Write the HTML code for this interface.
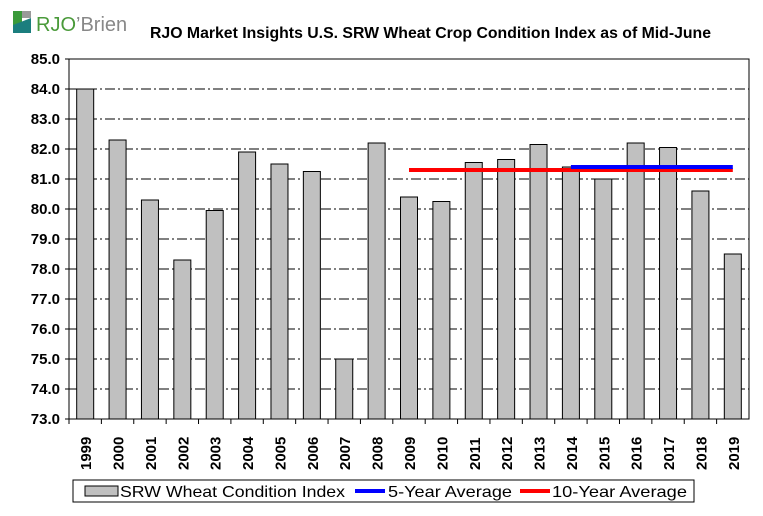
<!DOCTYPE html>
<html><head><meta charset="utf-8"><style>
body{margin:0;background:#fff;width:763px;height:516px;overflow:hidden;font-family:"Liberation Sans",Arial,sans-serif}
svg{display:block}
</style></head><body>
<svg width="763" height="516" id="c">
<g>
<rect x="13" y="11" width="9" height="14" fill="#3a9a3a"/>
<rect x="22" y="11" width="9" height="7" fill="#999"/>
<polygon points="13,25 31,18 31,33 13,33" fill="#1b7e7e"/>
<text x="36" y="31" font-size="20" fill="#4a9a3a">RJO<tspan fill="#888">’Brien</tspan></text>
</g>
<text x="150" y="38" font-size="15.5" font-weight="bold" textLength="561" lengthAdjust="spacingAndGlyphs">RJO Market Insights U.S. SRW Wheat Crop Condition Index as of Mid-June</text>
<g id="grid"></g><g id="bars"></g><g id="lines"></g><g id="axes"></g>
<g>
<rect x="73" y="480" width="621" height="22" fill="#fff" stroke="#000"/>
<rect x="85" y="486" width="33" height="10" fill="#c0c0c0" stroke="#000"/>
<text x="120" y="497" font-size="16" textLength="225" lengthAdjust="spacingAndGlyphs">SRW Wheat Condition Index</text>
<line x1="355" y1="491" x2="385" y2="491" stroke="#0000ff" stroke-width="4"/>
<text x="388" y="497" font-size="16" textLength="124" lengthAdjust="spacingAndGlyphs">5-Year Average</text>
<line x1="520" y1="491" x2="550" y2="491" stroke="#ff0000" stroke-width="4"/>
<text x="552" y="497" font-size="16" textLength="135" lengthAdjust="spacingAndGlyphs">10-Year Average</text>
</g>
</svg>
<script>
const years=['1999','2000','2001','2002','2003','2004','2005','2006','2007','2008','2009','2010','2011','2012','2013','2014','2015','2016','2017','2018','2019'];
const values=[84.0,82.3,80.3,78.3,79.95,81.9,81.5,81.25,75.0,82.2,80.4,80.25,81.55,81.65,82.15,81.4,81.0,82.2,82.05,80.6,78.5];
const avg5=81.4, avg5Start='2014';
const avg10=81.3, avg10Start='2009';
const yTicks=[73,74,75,76,77,78,79,80,81,82,83,84,85];
const NS='http://www.w3.org/2000/svg';
const L=69,R=749,T=59,B=419,ymin=73,ymax=85;
const y=v=>B-(v-ymin)/(ymax-ymin)*(B-T);
const cw=(R-L)/years.length;
const xc=i=>L+cw*(i+0.5);
function mk(p,tag,a){const e=document.createElementNS(NS,tag);for(const k in a)e.setAttribute(k,a[k]);document.getElementById(p).appendChild(e);return e;}
yTicks.forEach(t=>{
 if(t>ymin){const g=mk('grid','line',{x1:L,x2:R,y1:y(t),y2:y(t),stroke:'#000','stroke-dasharray':'10,3,2,3'});
 
 }
 mk('axes','line',{x1:L-4,x2:L,y1:y(t),y2:y(t),stroke:'#000'});
 const tx=mk('axes','text',{x:L-9,y:y(t)+5,'font-size':15,'font-weight':'bold','text-anchor':'end'});
 tx.textContent=t.toFixed(1);
 
 
});
mk('axes','rect',{x:L,y:T,width:R-L,height:B-T,fill:'none',stroke:'#000'});
values.forEach((v,i)=>{
 const bw=17;
 const b=mk('bars','rect',{x:xc(i)-bw/2,y:y(v),width:bw,height:B-y(v),fill:'#c0c0c0',stroke:'#000'});
 
 
 mk('axes','line',{x1:L+cw*i,x2:L+cw*i,y1:B,y2:B+5,stroke:'#000'});
 const tx=mk('axes','text',{transform:`translate(${xc(i)+6},${B+51}) rotate(-90)`,'font-size':15,'font-weight':'bold'});
 tx.textContent=years[i];
 
 
});
const last=years.length-1;
const l10=mk('lines','line',{x1:xc(years.indexOf(avg10Start)),x2:xc(last),y1:y(avg10),y2:y(avg10),stroke:'#ff0000','stroke-width':4});


const l5=mk('lines','line',{x1:xc(years.indexOf(avg5Start)),x2:xc(last),y1:y(avg5),y2:y(avg5),stroke:'#0000ff','stroke-width':4});


</script>
</body></html>
